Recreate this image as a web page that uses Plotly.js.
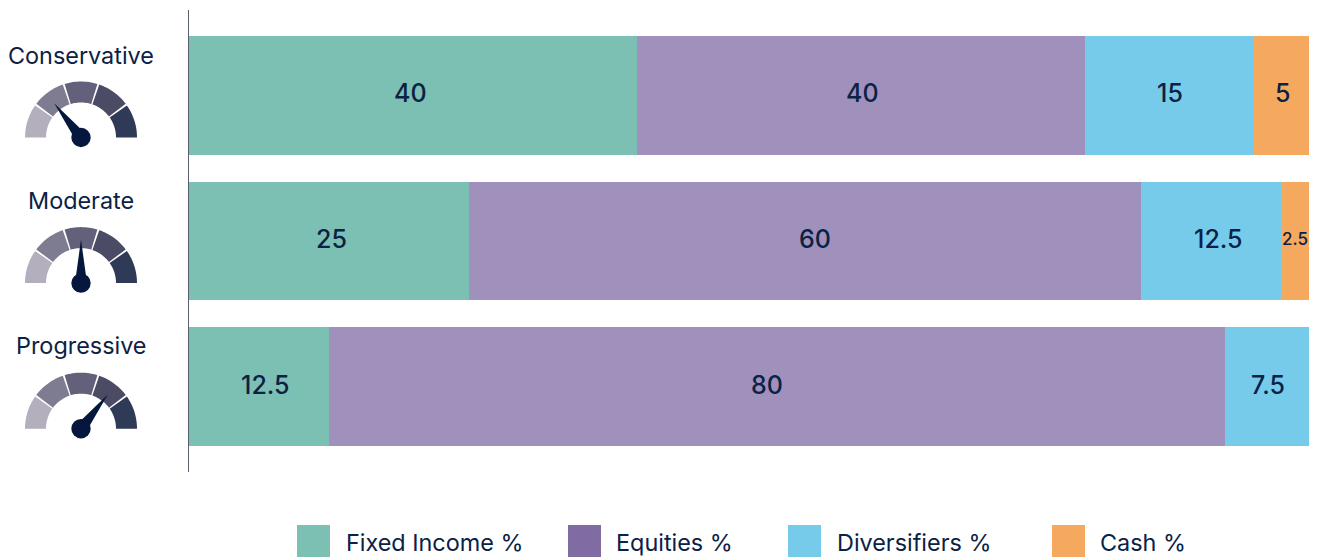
<!DOCTYPE html>
<html><head><meta charset="utf-8">
<script src="https://cdn.plot.ly/plotly-3.0.1.min.js"></script>
<style>html,body{margin:0;padding:0;background:#fff;overflow:hidden}</style></head>
<body><div id="chart" style="width:1317px;height:557px"></div>
<script>
const W=1317,H=557;
const profiles=['Conservative','Moderate','Progressive'];
const seriesNames=['Fixed Income %','Equities %','Diversifiers %','Cash %'];
const fixedIncome=[40,25,12.5];
const equities=[40,60,80];
const diversifiers=[15,12.5,7.5];
const cash=[5,2.5,0];
const barColors=['#7CBFB3','#9F91BC','#76CBEA','#F5A95E'];
const legendColors=['#7CBFB3','#806BA3','#76CBEA','#F5A95E'];
const gaugeColors=['#B3AFBD','#7D7C90','#62607A','#4C4B66','#2F3A56'];
const needleAngles=[128,90,52];
const labelShiftX=[[-3,2,6],[1,10,-10],[1,7,1],[1,0,0]];
const ink='#0B2145';
const font='Inter, sans-serif';
const px=x=>x/W, py=y=>1-y/H;
const P=(x,y)=>px(x).toFixed(5)+','+py(y).toFixed(5);
const arr=[fixedIncome,equities,diversifiers,cash];
const traces=arr.map((v,i)=>({
  type:'bar',orientation:'h',name:seriesNames[i],y:[0,1,2],x:v,
  marker:{color:barColors[i],line:{width:0}},width:0.815,
  hoverinfo:'name+x'
}));
const shapes=[],annotations=[];
// value labels, centred on each stacked segment through the data axes
profiles.forEach((_,k)=>{
  let base=0;
  arr.forEach((v,i)=>{
    if(v[k]>0){
      annotations.push({xref:'x',yref:'y',x:base+v[k]/2,y:k,text:String(v[k]),showarrow:false,
        xanchor:'center',yanchor:'middle',xshift:labelShiftX[i][k],yshift:2,
        font:{family:font,size:v[k]<3?17:25,weight:500,color:ink}});
    }
    base+=v[k];
  });
});
function rad(d){return d*Math.PI/180}
function pol(cx,cy,r,d){return [cx+r*Math.cos(rad(d)),cy-r*Math.sin(rad(d))]}
function seg(cx,cy,r0,r1,a0,a1){
  let s='';const n=16;
  for(let i=0;i<=n;i++){const p=pol(cx,cy,r1,a0+(a1-a0)*i/n);s+=(i?'L':'M')+P(p[0],p[1]);}
  for(let i=n;i>=0;i--){const p=pol(cx,cy,r0,a0+(a1-a0)*i/n);s+='L'+P(p[0],p[1]);}
  return s+'Z';
}
profiles.forEach((name,k)=>{
  const cy=137.5+k*145.6,cx=81;
  annotations.push({xref:'paper',yref:'paper',x:px(cx),y:py(55+k*145.2),text:name,showarrow:false,
    xanchor:'center',yanchor:'middle',xshift:-0.5,font:{family:font,size:23.4,color:ink}});
  gaugeColors.forEach((c,i)=>{
    const gap=1.0;
    const a0=180-i*36-(i?gap:0), a1=180-(i+1)*36+(i<4?gap:0);
    shapes.push({type:'path',xref:'paper',yref:'paper',path:seg(cx,cy,35,56,a0,a1),fillcolor:c,line:{width:0},layer:'above'});
  });
  const a=needleAngles[k],tip=pol(cx,cy,43.5,a),b1=pol(cx,cy,6,a+90),b2=pol(cx,cy,6,a-90);
  shapes.push({type:'path',xref:'paper',yref:'paper',path:'M'+P(tip[0],tip[1])+'L'+P(b1[0],b1[1])+'L'+P(b2[0],b2[1])+'Z',fillcolor:'#05173D',line:{width:0},layer:'above'});
  shapes.push({type:'circle',xref:'paper',yref:'paper',x0:px(cx-9.7),x1:px(cx+9.7),y0:py(cy+9.7),y1:py(cy-9.7),fillcolor:'#05173D',line:{width:0},layer:'above'});
});
const legendX=[297,568,788,1052],legendTextX=[346,616,837,1100];
seriesNames.forEach((n,i)=>{
  shapes.push({type:'rect',xref:'paper',yref:'paper',x0:px(legendX[i]),x1:px(legendX[i]+33),y0:py(557),y1:py(525),fillcolor:legendColors[i],line:{width:0}});
  annotations.push({xref:'paper',yref:'paper',x:px(legendTextX[i]),y:py(542.5),text:n,showarrow:false,xanchor:'left',yanchor:'middle',xshift:-2,font:{family:font,size:23.4,color:ink}});
});
const layout={width:W,height:H,margin:{l:0,r:0,t:0,b:0},paper_bgcolor:'#fff',plot_bgcolor:'#fff',
  barmode:'stack',showlegend:false,shapes,annotations,
  xaxis:{domain:[px(189),px(1309)],range:[0,100],visible:false,fixedrange:true},
  yaxis:{domain:[py(472),py(10)],range:[(472-95.5)/145.5,(10-95.5)/145.5],fixedrange:true,showticklabels:false,ticks:'',showgrid:false,zeroline:false,showline:true,linecolor:'#5A5F6E',linewidth:1}
};
Plotly.newPlot('chart',traces,layout,{displayModeBar:false,staticPlot:true});
</script></body></html>
